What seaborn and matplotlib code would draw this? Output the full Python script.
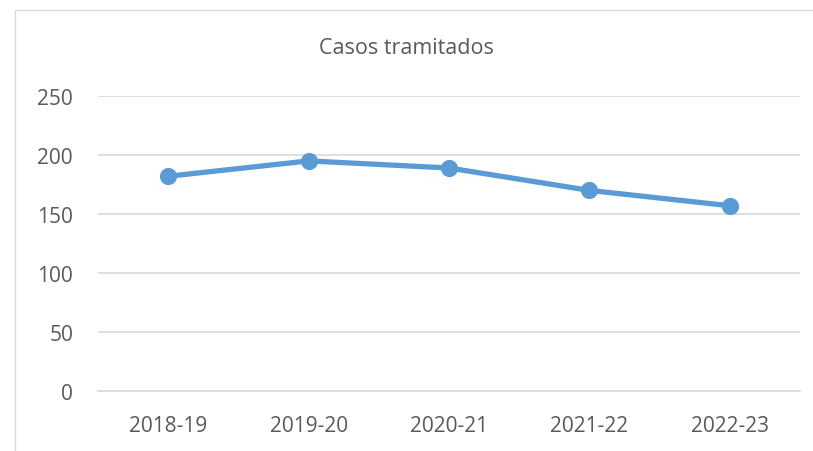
import matplotlib
matplotlib.use('Agg')
import matplotlib.pyplot as plt
import seaborn as sns
import pandas as pd
from matplotlib.patches import Rectangle

sns.set_style('white')
plt.rcParams['font.family'] = ['Open Sans', 'DejaVu Sans']

# data
periodos = ['2018-19', '2019-20', '2020-21', '2021-22', '2022-23']
casos = [182, 195, 189, 170, 157]
df = pd.DataFrame({'periodo': periodos, 'casos': casos})

fig = plt.figure(figsize=(8.13, 4.52), dpi=100)
ax = fig.add_axes([98 / 813, 60 / 452, 702 / 813, 295 / 452])

sns.pointplot(data=df, x='periodo', y='casos', color='#5B9BD5',
              markers='o', markersize=9.5, linewidth=3.8, ax=ax)

ax.set_ylim(0, 250)
ax.set_yticks(range(0, 251, 50))
ax.set_xlim(-0.5, 4.5)
ax.grid(axis='y', color='#D9D9D9', linewidth=1.2)
ax.set_axisbelow(True)
for s in ['top', 'right', 'left']:
    ax.spines[s].set_visible(False)
ax.spines['bottom'].set_color('#D9D9D9')
ax.spines['bottom'].set_linewidth(1.2)
ax.tick_params(axis='both', length=0, labelsize=15, colors='#595959')
ax.tick_params(axis='x', pad=17)
ax.tick_params(axis='y', pad=18)
ax.set_xlabel('')
ax.set_ylabel('')
fig.text(0.5, 1 - 49 / 452, 'Casos tramitados', ha='center', va='center',
         fontsize=15.5, color='#595959')

# chart frame, running off the right and bottom edges
fig.patches.append(Rectangle((15 / 813, -10 / 452), 820 / 813, 451 / 452,
                             transform=fig.transFigure, fill=False,
                             edgecolor='#D9D9D9', linewidth=1))

fig.savefig('out.png', dpi=100)
